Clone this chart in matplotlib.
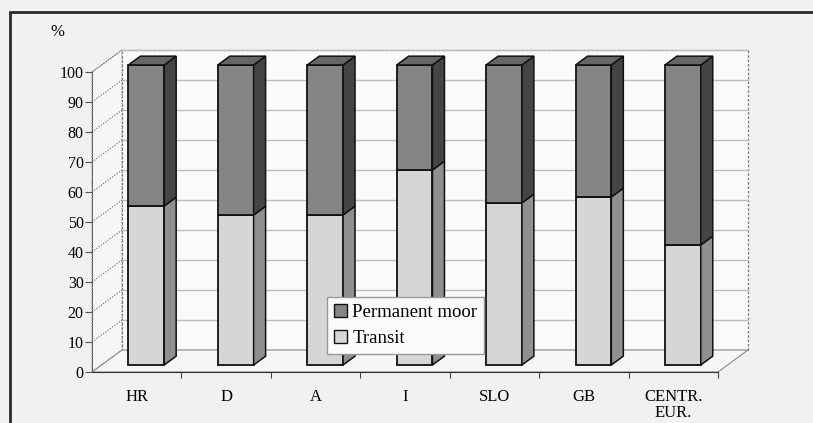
import numpy as np
import matplotlib
matplotlib.use('Agg')
import matplotlib.pyplot as plt
from matplotlib.patches import Polygon, Rectangle, Patch
from matplotlib.transforms import Affine2D

plt.rcParams['font.family'] = ['Liberation Serif', 'DejaVu Serif']

COUNTRIES = ['HR', 'D', 'A', 'I', 'SLO', 'GB', 'CENTR.\nEUR.']
TRANSIT = [53, 50, 50, 65, 54, 56, 40]
PERMANENT = [47, 50, 50, 35, 46, 44, 60]
Y_TICKS = list(range(0, 101, 10))

# oblique "3d" depth, in data units for the full depth of the box
DX, DY = 0.335, 7.33
Z_FRONT, Z_BACK = 0.32, 0.72
BAR_W = 0.40

DARK = {'front': '#858585', 'side': '#454545', 'top': '#666666'}
LIGHT = {'front': '#d6d6d6', 'side': '#8f8f8f'}


def proj(x, y, z):
    return x + z * DX, y + z * DY


def face(ax, pts, color, z=3, **kw):
    ax.add_patch(Polygon([proj(*p) for p in pts], closed=True, fc=color,
                         ec='#111111', lw=1.1, zorder=z, clip_on=False, **kw))


fig = plt.figure(figsize=(8.13, 4.23), dpi=100, facecolor='#f1f1f1')
fig.patches.append(Rectangle((10 / 813, -0.02), 1.0, (423 - 12) / 423 + 0.02,
                             transform=fig.transFigure, fill=False,
                             ec='#2a2a2a', lw=2.0))

ax = fig.add_axes([92 / 813, 51 / 423, 626 / 813, 300 / 423])
ax.set_xlim(0, 7)
ax.set_ylim(0, 100)
ax.patch.set_visible(False)
n = len(COUNTRIES)

# walls
wall = [proj(0, 0, 1), proj(n, 0, 1), proj(n, 100, 1), proj(0, 100, 1)]
ax.add_patch(Polygon(wall, closed=True, fc='#fafafa', ec='#777777', lw=0.9,
                     ls=(0, (2, 1.5)), zorder=1, clip_on=False))
side = [proj(0, 0, 0), proj(0, 0, 1), proj(0, 100, 1), proj(0, 100, 0)]
ax.add_patch(Polygon(side, closed=True, fc='#f6f6f6', ec='#777777', lw=0.8,
                     ls=(0, (1, 1.5)), zorder=1, clip_on=False))
floor = [proj(0, 0, 0), proj(n, 0, 0), proj(n, 0, 1), proj(0, 0, 1)]
ax.add_patch(Polygon(floor, closed=True, fc='#f6f6f6', ec='#888888', lw=0.8,
                     zorder=1, clip_on=False))

for y in Y_TICKS[1:]:
    (xa, ya), (xb, yb) = proj(0, y, 1), proj(n, y, 1)
    ax.plot([xa, xb], [ya, yb], color='#bdbdbd', lw=1.0, zorder=2, clip_on=False)
    (xa, ya), (xb, yb) = proj(0, y, 0), proj(0, y, 1)
    ax.plot([xa, xb], [ya, yb], color='#666666', lw=0.8, ls=(0, (1, 1.5)),
            zorder=2, clip_on=False)

# bars
x = np.arange(n) + 0.5
shift = Affine2D().translate(Z_FRONT * DX, Z_FRONT * DY) + ax.transData
ax.bar(x, TRANSIT, BAR_W, color=LIGHT['front'], edgecolor='#111111', lw=1.3,
       transform=shift, zorder=3, clip_on=False)
ax.bar(x, PERMANENT, BAR_W, bottom=TRANSIT, color=DARK['front'],
       edgecolor='#111111', lw=1.3, transform=shift, zorder=3, clip_on=False)

for i in range(n):
    xl, xr = x[i] - BAR_W / 2, x[i] + BAR_W / 2
    t, top = TRANSIT[i], TRANSIT[i] + PERMANENT[i]
    face(ax, [(xr, 0, Z_FRONT), (xr, 0, Z_BACK), (xr, t, Z_BACK), (xr, t, Z_FRONT)],
         LIGHT['side'])
    face(ax, [(xr, t, Z_FRONT), (xr, t, Z_BACK), (xr, top, Z_BACK), (xr, top, Z_FRONT)],
         DARK['side'])
    face(ax, [(xl, top, Z_FRONT), (xr, top, Z_FRONT), (xr, top, Z_BACK), (xl, top, Z_BACK)],
         DARK['top'])

# axes
for s in ['top', 'right']:
    ax.spines[s].set_visible(False)
ax.spines['left'].set_linestyle((0, (1, 1.5)))
ax.spines['left'].set_color('#555555')
ax.spines['bottom'].set_color('#333333')
ax.spines['bottom'].set_zorder(2)
ax.set_yticks(Y_TICKS)
ax.set_yticklabels([str(v) for v in Y_TICKS], fontsize=11.5)
ax.tick_params(axis='y', length=5, width=0.8, color='#555555', pad=1)
ax.set_xticks(x)
ax.set_xticklabels(COUNTRIES, fontsize=12, linespacing=1.0)
ax.tick_params(axis='x', which='major', length=0, pad=12)
ax.set_xticks(np.arange(1, n + 1), minor=True)
ax.tick_params(axis='x', which='minor', length=4, width=0.8, color='#444444')

fig.text(57 / 813, 1 - 32 / 423, '%', fontsize=12, ha='center', va='center')

handles = [Patch(fc=DARK['front'], ec='#111111', label='Permanent moor'),
           Patch(fc=LIGHT['front'], ec='#111111', label='Transit')]
leg = ax.legend(handles=handles, loc='upper left',
                bbox_to_anchor=(327 / 813, 1 - 297 / 423),
                bbox_transform=fig.transFigure, fontsize=13.5, frameon=True,
                fancybox=False, handlelength=0.7, handleheight=0.7,
                handletextpad=0.3, borderpad=0.35, labelspacing=0.5,
                borderaxespad=0)
leg.get_frame().set_edgecolor('#999999')
leg.get_frame().set_facecolor('#fbfbfb')
leg.get_frame().set_alpha(1)
leg.set_zorder(5)

fig.savefig('out.png', dpi=100, facecolor=fig.get_facecolor())
